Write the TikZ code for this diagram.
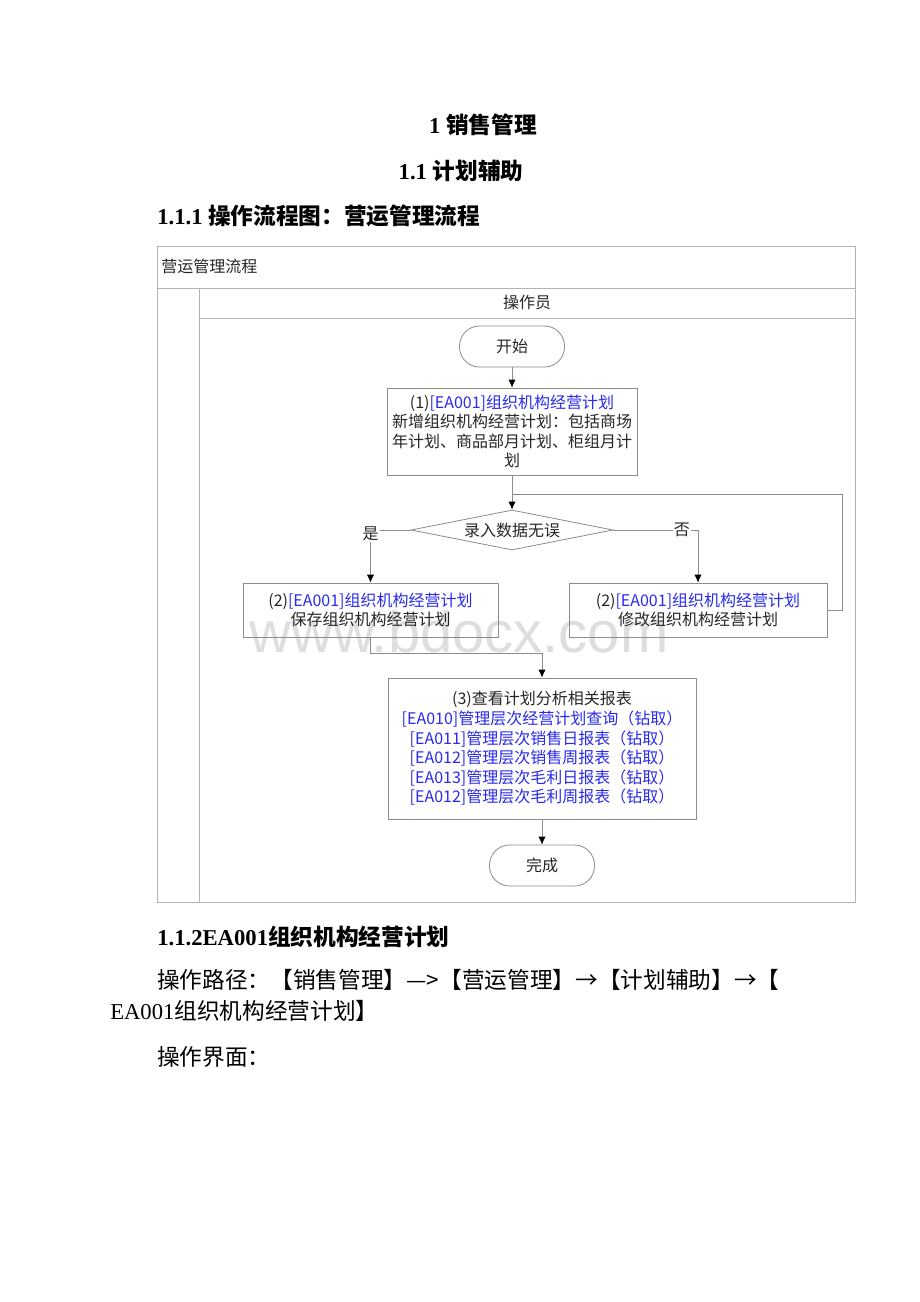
\documentclass[tikz,border=0pt]{standalone}
\usepackage{fontspec}
\setmainfont{Liberation Serif}
\newfontfamily\cjk{Noto Sans CJK SC}
\newfontfamily\wmfont{Liberation Sans}
\usetikzlibrary{shapes.geometric,arrows.meta}
\definecolor{lineg}{HTML}{8C8C8C}
\definecolor{frameg}{HTML}{B4B4B4}
\definecolor{lnkblue}{HTML}{2A2AF0}
\definecolor{txtd}{HTML}{262626}
\definecolor{wm}{HTML}{DEDEDE}
\newcommand\dfont{\cjk\fontsize{12}{14.7}\selectfont}
\newcommand\bl[1]{\textcolor{lnkblue}{#1}}
\newcommand\hfont{\fontsize{17}{20}\selectfont}
\begin{document}
\begin{tikzpicture}[x=0.75pt,y=-0.75pt,
  box/.style={draw=lineg, line width=0.6pt, align=center, font=\dfont, text=txtd, inner sep=0pt},
  term/.style={box, rounded corners=15pt, minimum width=105*0.75pt, minimum height=41*0.75pt},
  frame/.style={draw=frameg, line width=0.6pt},
  conn/.style={draw=lineg, line width=0.6pt},
  arr/.style={conn, -{Latex[color=black,length=6pt,width=5.5pt]}},
  lbl/.style={font=\dfont, text=txtd, fill=white, inner sep=1pt},
  head/.style={font=\hfont\bfseries, inner sep=0pt},
  body/.style={font=\hfont, inner sep=0pt, anchor=west}]
\useasboundingbox[fill=white] (0,0) rectangle (920,1302);

% headings
\node[head] (h1) at (483,125) {1 {\cjk 销售管理}};
\node[head] (h2) at (461,171) {1.1 {\cjk 计划辅助}};
\node[head, anchor=west] (h3) at (157,216) {1.1.1 {\cjk 操作流程图：营运管理流程}};

% watermark
\node[text=wm, font=\wmfont\fontsize{43.5}{43.5}\selectfont, inner sep=0pt, anchor=base] (wmk) at (459,652) {www.bdocx.com};

% frame
\draw[frame] (157,246) rectangle (855,902);
\draw[frame] (157,288) -- (855,288);
\draw[frame] (199,288) -- (199,902);
\draw[frame] (199,318) -- (855,318);
\node[font=\dfont, text=txtd, anchor=west, inner sep=0pt] (pool) at (161,266) {营运管理流程};
\node[font=\dfont, text=txtd, inner sep=0pt] (lane) at (527,302) {操作员};

% nodes
\node[term] (start) at (512,346.5) {开始};
\node[box, minimum width=250*0.75pt, minimum height=87*0.75pt] (b1) at (512,431.5)
  {(1)\bl{[EA001]组织机构经营计划}\\新增组织机构经营计划：包括商场\\年计划、商品部月计划、柜组月计\\划};
\node[diamond, draw=lineg, line width=0.6pt, font=\dfont, text=txtd, inner sep=0pt, aspect=5,
  minimum width=202*0.75pt, minimum height=40*0.75pt] (dia) at (512,530) {录入数据无误};
\node[box, minimum width=255*0.75pt, minimum height=54*0.75pt] (b2) at (370.5,610)
  {(2)\bl{[EA001]组织机构经营计划}\\保存组织机构经营计划};
\node[box, minimum width=258*0.75pt, minimum height=54*0.75pt] (b3) at (698,610)
  {(2)\bl{[EA001]组织机构经营计划}\\修改组织机构经营计划};
\node[box, minimum width=308*0.75pt, minimum height=141*0.75pt] (b4) at (542,748.5)
  {(3)查看计划分析相关报表\\
   \bl{[EA010]管理层次经营计划查询（钻取）}\\
   \bl{[EA011]管理层次销售日报表（钻取）}\\
   \bl{[EA012]管理层次销售周报表（钻取）}\\
   \bl{[EA013]管理层次毛利日报表（钻取）}\\
   \bl{[EA012]管理层次毛利周报表（钻取）}};
\node[term] (end) at (542,865.5) {完成};

% connectors
\coordinate (loopR) at (842,494);
\coordinate (loopJ) at (512,494);
\draw[arr] (start) -- (b1);
\draw[conn] (b3.east) -- (b3.east -| loopR) -- (loopR) -- (loopJ);
\draw[arr] (b1.south) -- (dia.north);
\draw[arr] (dia.west) -| (b2.north) node[lbl, pos=0.5, yshift=-4*0.75pt] (yes) {是};
\draw[arr] (dia.east) -| (b3.north) node[lbl, pos=0.405] (no) {否};
\draw[arr] (b2.south) -- ++(0,16) -| (b4.north);
\draw[arr] (b4.south) -- (end.north);

% body text
\node[head, anchor=west] (h4) at (157,937) {1.1.2EA001{\cjk 组织机构经营计划}};
\node[body] (p1) at (157,980) {\cjk 操作路径：【销售管理】—>【营运管理】→【计划辅助】→【};
\node[body] (p2) at (110,1011) {EA001{\cjk 组织机构经营计划】}};
\node[body] (p3) at (157,1057) {\cjk 操作界面：};
\end{tikzpicture}
\end{document}
